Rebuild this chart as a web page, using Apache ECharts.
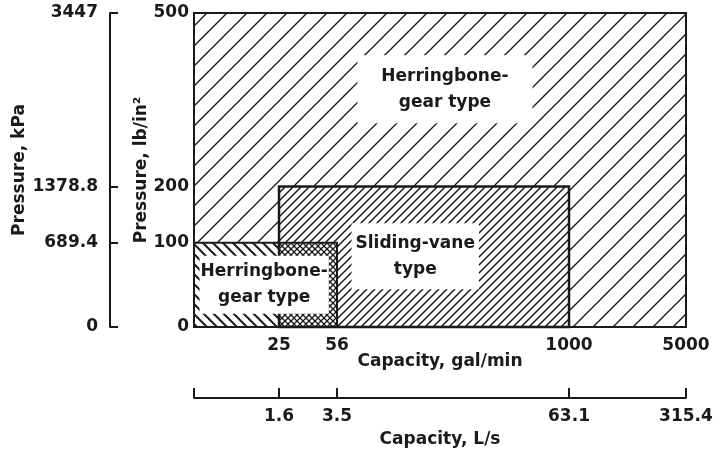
<!DOCTYPE html>
<html>
<head>
<meta charset="utf-8">
<script src="https://cdn.jsdelivr.net/npm/echarts@6/dist/echarts.min.js"></script>
<style>
html,body{margin:0;padding:0;background:#fff;}
#chart{width:717px;height:454px;}
</style>
</head>
<body>
<div id="chart"></div>
<script>
// ---- data ----
const capTicksGpm = [10, 25, 56, 1000, 5000];          // gal/min (first = unlabeled left end)
const capLabelsGpm = ['', '25', '56', '1000', '5000'];
const capLabelsLs = ['', '1.6', '3.5', '63.1', '315.4']; // L/s
const presTicksPsi = [0, 100, 200, 500];                // lb/in^2
const presLabelsPsi = ['0', '100', '200', '500'];
const presLabelsKpa = ['0', '689.4', '1378.8', '3447'];

const regionNames = ['Herringbone-\ngear type', 'Sliding-vane\ntype', 'Herringbone-\ngear type'];
const regionCapMin = [10, 25, 10];
const regionCapMax = [5000, 1000, 56];
const regionPresMin = [0, 0, 0];
const regionPresMax = [500, 200, 100];
const labelCap = [214, 148, 21.3];
const labelPres = [368, 84, 50];

// ---- layout (schematic, non-uniform axes) ----
const capTickPos = [0, 0.1728, 0.2907, 0.7622, 1];
const presTickPos = [0, 0.2684, 0.4473, 1];

function warpCap(v) {
  for (let i = 0; i < capTicksGpm.length - 1; i++) {
    const a = capTicksGpm[i], b = capTicksGpm[i + 1];
    if (v <= b || i === capTicksGpm.length - 2) {
      const f = (Math.log(v) - Math.log(a)) / (Math.log(b) - Math.log(a));
      return capTickPos[i] + f * (capTickPos[i + 1] - capTickPos[i]);
    }
  }
}
function warpPres(v) {
  for (let i = 0; i < presTicksPsi.length - 1; i++) {
    const a = presTicksPsi[i], b = presTicksPsi[i + 1];
    if (v <= b || i === presTicksPsi.length - 2) {
      const f = (v - a) / (b - a);
      return presTickPos[i] + f * (presTickPos[i + 1] - presTickPos[i]);
    }
  }
}
function labelAt(posArr, labels, v) {
  let best = 0, d = 1e9;
  posArr.forEach((p, i) => { if (Math.abs(p - v) < d) { d = Math.abs(p - v); best = i; } });
  return labels[best];
}

// ---- hatch patterns ----
const INK = '#1a1a1a';
function hatch(w, h, dirs, lw, bg) {
  const c = document.createElement('canvas');
  c.width = w; c.height = h;
  const g = c.getContext('2d');
  if (bg) { g.fillStyle = bg; g.fillRect(0, 0, w, h); }
  g.strokeStyle = INK; g.lineWidth = lw; g.lineCap = 'square';
  dirs.forEach(d => {
    g.beginPath();
    for (let k = -1; k <= 1; k++) {
      if (d === '/') { g.moveTo(k * w, h); g.lineTo(k * w + w, 0); }
      else { g.moveTo(k * w, 0); g.lineTo(k * w + w, h); }
    }
    g.stroke();
  });
  return { image: c, repeat: 'repeat' };
}
const patterns = [
  hatch(20, 20, ['/'], 1.4, '#fff'),
  hatch(8, 8, ['/'], 1.5, '#fff'),
  hatch(10, 10, ['\\'], 2, '#fff'),
  hatch(6, 6, ['/', '\\'], 1.3, '#fff')
];

// fills: regions + overlap of sliding-vane and small herringbone
const fillData = regionNames.map((n, i) => [warpCap(regionCapMin[i]), warpCap(regionCapMax[i]), warpPres(regionPresMin[i]), warpPres(regionPresMax[i]), i]);
const ov = [Math.max(regionCapMin[1], regionCapMin[2]), Math.min(regionCapMax[1], regionCapMax[2]),
            Math.max(regionPresMin[1], regionPresMin[2]), Math.min(regionPresMax[1], regionPresMax[2])];
fillData.push([warpCap(ov[0]), warpCap(ov[1]), warpPres(ov[2]), warpPres(ov[3]), 3]);
const borderData = fillData.slice(0, 3);
const labelData = regionNames.map((n, i) => [warpCap(labelCap[i]), warpPres(labelPres[i]), i]);
const labelPad = [[8, 24], [7, 4], [3, 1]];
const FONT = 'bold 17px "DejaVu Sans"';

function rectOf(api) {
  const p0 = api.coord([api.value(0), api.value(3)]);
  const p1 = api.coord([api.value(1), api.value(2)]);
  return { x: p0[0], y: p0[1], width: p1[0] - p0[0], height: p1[1] - p0[1] };
}

const axisTxt = { color: INK, fontSize: 17, fontWeight: 'bold', fontFamily: 'DejaVu Sans' };
const chart = echarts.init(document.getElementById('chart'), null, { renderer: 'canvas' });
chart.setOption({
  animation: false,
  backgroundColor: '#fff',
  grid: { left: 194, right: 31, top: 13, bottom: 127, containLabel: false, outerBoundsMode: 'none' },
  xAxis: [
    {
      type: 'value', min: 0, max: 1, position: 'bottom',
      axisLine: { show: false }, axisTick: { show: false }, splitLine: { show: false },
      axisLabel: Object.assign({ customValues: capTickPos.slice(1), margin: 10,
        formatter: v => labelAt(capTickPos, capLabelsGpm, v) }, axisTxt),
      name: 'Capacity, gal/min', nameLocation: 'middle', nameGap: 26, nameMoveOverlap: false, nameTextStyle: axisTxt
    },
    {
      type: 'value', min: 0, max: 1, position: 'bottom', offset: 71,
      axisLine: { show: true, onZero: false, lineStyle: { color: INK, width: 2 } },
      axisTick: { show: true, inside: true, length: 10, customValues: capTickPos, lineStyle: { color: INK, width: 2 } },
      splitLine: { show: false },
      axisLabel: Object.assign({ customValues: capTickPos.slice(1), margin: 10,
        formatter: v => labelAt(capTickPos, capLabelsLs, v) }, axisTxt),
      name: 'Capacity, L/s', nameLocation: 'middle', nameGap: 33, nameMoveOverlap: false, nameTextStyle: axisTxt
    }
  ],
  yAxis: [
    {
      type: 'value', min: 0, max: 1, position: 'left',
      axisLine: { show: false }, axisTick: { show: false }, splitLine: { show: false },
      axisLabel: Object.assign({ customValues: presTickPos, margin: 5,
        formatter: v => labelAt(presTickPos, presLabelsPsi, v) }, axisTxt),
      name: 'Pressure, lb/in²', nameLocation: 'middle', nameGap: 44, nameRotate: 90, nameMoveOverlap: false, nameTextStyle: axisTxt
    },
    {
      type: 'value', min: 0, max: 1, position: 'left', offset: 84,
      axisLine: { show: true, onZero: false, lineStyle: { color: INK, width: 2 } },
      axisTick: { show: true, inside: true, length: 8, customValues: presTickPos, lineStyle: { color: INK, width: 2 } },
      splitLine: { show: false },
      axisLabel: Object.assign({ customValues: presTickPos, margin: 12,
        formatter: v => labelAt(presTickPos, presLabelsKpa, v) }, axisTxt),
      name: 'Pressure, kPa', nameLocation: 'middle', nameGap: 82, nameRotate: 90, nameMoveOverlap: false, nameTextStyle: axisTxt
    }
  ],
  series: [
    {
      type: 'custom', xAxisIndex: 0, yAxisIndex: 0, clip: false, z: 2,
      encode: { x: [0, 1], y: [2, 3] },
      data: fillData,
      renderItem: (params, api) => ({
        type: 'rect', shape: rectOf(api),
        style: { fill: patterns[api.value(4)], stroke: null }
      })
    },
    {
      type: 'custom', xAxisIndex: 0, yAxisIndex: 0, clip: false, z: 3,
      encode: { x: [0, 1], y: [2, 3] },
      data: borderData,
      renderItem: (params, api) => ({
        type: 'rect', shape: rectOf(api),
        style: { fill: null, stroke: INK, lineWidth: api.value(4) === 1 ? 2.5 : 2 }
      })
    },
    {
      type: 'custom', xAxisIndex: 0, yAxisIndex: 0, clip: false, z: 4,
      encode: { x: 0, y: 1 },
      data: labelData,
      renderItem: (params, api) => {
        const i = api.value(2);
        const p = api.coord([api.value(0), api.value(1)]);
        return {
          type: 'text', x: p[0], y: p[1],
          style: {
            text: regionNames[i], font: FONT, fill: INK,
            align: 'center', verticalAlign: 'middle', lineHeight: 26,
            backgroundColor: '#fff', padding: labelPad[i]
          }
        };
      }
    }
  ]
});
</script>
</body>
</html>
